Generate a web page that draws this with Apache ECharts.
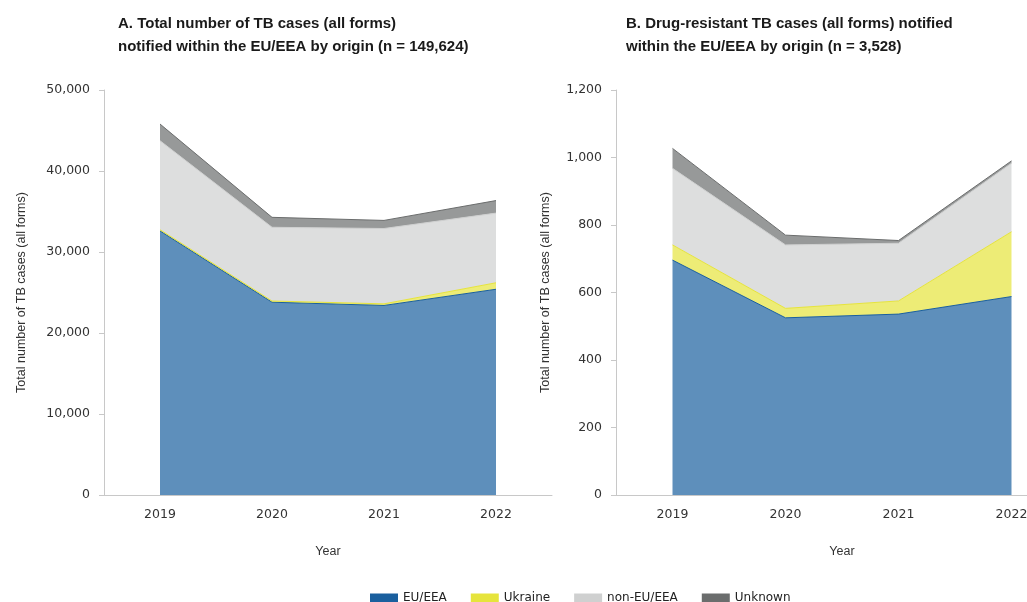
<!DOCTYPE html>
<html>
<head>
<meta charset="utf-8">
<script src="https://cdn.jsdelivr.net/npm/echarts@6/dist/echarts.min.js"></script>
<style>html,body{margin:0;padding:0;background:#fff}#c{width:1027px;height:602px}</style>
</head>
<body>
<div id="c"></div>
<script>
const years = ['2019', '2020', '2021', '2022'];
const seriesNames = ['EU/EEA', 'Ukraine', 'non-EU/EEA', 'Unknown'];
// Panel A: total TB cases (all forms)
const allEU = [32600, 23800, 23400, 25400];
const allUkraine = [150, 150, 200, 800];
const allNonEU = [10990, 9100, 9300, 8600];
const allUnknown = [2060, 1230, 1000, 1550];
// Panel B: drug-resistant TB cases
const drEU = [696, 525, 536, 588];
const drUkraine = [45, 28, 39, 192];
const drNonEU = [227, 188, 171, 203];
const drUnknown = [59, 29, 8, 7];
// Axis ranges / ticks
const yMaxA = 50000, yStepA = 10000;
const yMaxB = 1200, yStepB = 200;

const colors = ['#1a5f9e', '#e6e43c', '#cfd0d0', '#6b6d6d'];
const axisGray = '#c8c8c8';
const numFont = 'DejaVu Sans';
const txtFont = 'Liberation Sans';

function fmt(v) { return Number(v).toLocaleString('en-US'); }

function xAx(idx) {
  return {
    type: 'category', gridIndex: idx, data: years, boundaryGap: true,
    axisLine: { show: true, lineStyle: { color: axisGray, width: 1 } },
    axisTick: { show: false },
    axisLabel: { color: '#333', fontFamily: numFont, fontSize: 12.5, margin: 13 },
    name: 'Year', nameLocation: 'middle', nameGap: 50,
    nameTextStyle: { color: '#333', fontFamily: txtFont, fontSize: 12.5 }
  };
}
function yAx(idx, max, step, gap) {
  return {
    type: 'value', gridIndex: idx, min: 0, max: max, interval: step,
    splitLine: { show: false },
    axisLine: { show: true, lineStyle: { color: axisGray, width: 1 } },
    axisTick: { show: true, length: 5, lineStyle: { color: axisGray } },
    axisLabel: { color: '#333', fontFamily: numFont, fontSize: 12.5, margin: 14, formatter: fmt },
    name: 'Total number of TB cases (all forms)', nameLocation: 'middle', nameGap: gap,
    nameTextStyle: { color: '#333', fontFamily: txtFont, fontSize: 12.5 }
  };
}
function ser(name, data, idx, color, stack) {
  return {
    type: 'line', name: name, data: data, xAxisIndex: idx, yAxisIndex: idx,
    stack: stack, symbol: 'none', smooth: false,
    itemStyle: { color: color },
    lineStyle: { color: color, width: 1 },
    areaStyle: { color: color, opacity: 0.7 },
    emphasis: { disabled: true }
  };
}

const chart = echarts.init(document.getElementById('c'));
chart.setOption({
  animation: false,
  backgroundColor: '#fff',
  title: [
    { text: 'A. Total number of TB cases (all forms)\nnotified within the EU/EEA by origin (n = 149,624)',
      left: 113, top: 7,
      textStyle: { fontFamily: txtFont, fontWeight: 'bold', fontSize: 15, lineHeight: 23, color: '#1a1a1a' } },
    { text: 'B. Drug-resistant TB cases (all forms) notified\nwithin the EU/EEA by origin (n = 3,528)',
      left: 621, top: 7,
      textStyle: { fontFamily: txtFont, fontWeight: 'bold', fontSize: 15, lineHeight: 23, color: '#1a1a1a' } }
  ],
  legend: {
    data: seriesNames, left: 365, top: 587, itemWidth: 28, itemHeight: 9, itemGap: 24,
    icon: 'rect',
    textStyle: { color: '#222', fontFamily: numFont, fontSize: 12 }
  },
  grid: [
    { left: 104, top: 90, width: 448, height: 405, outerBoundsMode: 'none', containLabel: false },
    { left: 616, top: 90, width: 452, height: 405, outerBoundsMode: 'none', containLabel: false }
  ],
  xAxis: [xAx(0), xAx(1)],
  yAxis: [yAx(0, yMaxA, yStepA, 76), yAx(1, yMaxB, yStepB, 64)],
  series: [
    ser(seriesNames[0], allEU, 0, colors[0], 'A'),
    ser(seriesNames[1], allUkraine, 0, colors[1], 'A'),
    ser(seriesNames[2], allNonEU, 0, colors[2], 'A'),
    ser(seriesNames[3], allUnknown, 0, colors[3], 'A'),
    ser(seriesNames[0], drEU, 1, colors[0], 'B'),
    ser(seriesNames[1], drUkraine, 1, colors[1], 'B'),
    ser(seriesNames[2], drNonEU, 1, colors[2], 'B'),
    ser(seriesNames[3], drUnknown, 1, colors[3], 'B')
  ]
});
</script>
</body>
</html>
